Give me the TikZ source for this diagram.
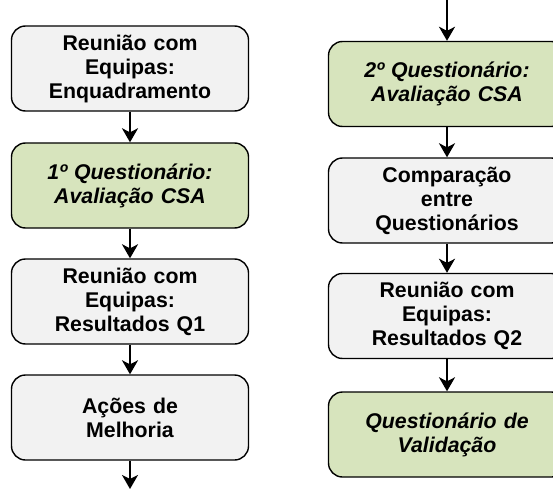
\documentclass[tikz,border=0pt]{standalone}
\usepackage{fontspec}
\setmainfont{Liberation Sans}
\usetikzlibrary{arrows.meta}
\definecolor{boxgray}{HTML}{F2F2F2}
\definecolor{boxgreen}{HTML}{D7E4BD}
\begin{document}
\begin{tikzpicture}[x=1pt,y=-1pt,
  stepbox/.style={draw=black, line width=1.4pt, rounded corners=14pt,
    minimum width=237pt, minimum height=85pt, text width=230pt, align=center,
    inner sep=0pt, font=\fontsize{21.3}{24}\selectfont\bfseries},
  graybox/.style={stepbox, fill=boxgray},
  greenbox/.style={stepbox, fill=boxgreen, font=\fontsize{21.3}{24}\selectfont\bfseries\itshape},
  flow/.style={draw=black, line width=2pt, -{Stealth[length=14pt,width=16pt,inset=4pt]}}]
\useasboundingbox (0,0) rectangle (553,489);
\node[graybox]  (l1) at (130,68.5)  {Reunião com\\Equipas:\\Enquadramento};
\node[greenbox] (l2) at (130,185.5) {1º Questionário:\\Avaliação CSA};
\node[graybox]  (l3) at (130,301.5) {Reunião com\\Equipas:\\Resultados Q1};
\node[graybox]  (l4) at (130,417.5) {Ações de\\Melhoria};
\coordinate (lend) at (130,489);
\node[greenbox] (r1) at (447,84)    {2º Questionário:\\Avaliação CSA};
\node[graybox]  (r2) at (447,200.5) {Comparação\\entre\\Questionários};
\node[graybox]  (r3) at (447,316)   {Reunião com\\Equipas:\\Resultados Q2};
\node[greenbox] (r4) at (447,434.5) {Questionário de\\Validação};
\coordinate (rstart) at (447,0);
\draw[flow] (l1) -- (l2);
\draw[flow] (l2) -- (l3);
\draw[flow] (l3) -- (l4);
\draw[flow] (l4) -- (lend);
\draw[flow] (rstart) -- (r1);
\draw[flow] (r1) -- (r2);
\draw[flow] (r2) -- (r3);
\draw[flow] (r3) -- (r4);
\end{tikzpicture}
\end{document}
